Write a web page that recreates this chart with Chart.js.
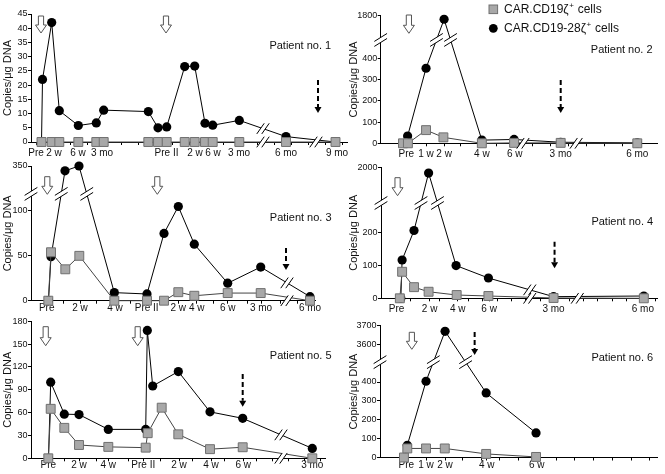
<!DOCTYPE html>
<html>
<head>
<meta charset="utf-8">
<script src="https://cdn.jsdelivr.net/npm/chart.js@4.4.1/dist/chart.umd.min.js"></script>
<style>
  body { margin: 0; background: #fff; }
  #wrap { position: relative; width: 665px; height: 474px; overflow: hidden; }
  canvas { position: absolute; }
</style>
</head>
<body>
<div id="wrap"></div>
<script>
// Timeline positions (axis units from the y axis),
// squares = CAR.CD19ζ+ cells, circles = CAR.CD19-28ζ+ cells

// Patient 1
const p1SqPos = [10.5, 20.7, 28.3, 47.3, 65.3, 72.7, 117.3, 127, 135.7, 153.7, 163.7, 174, 181.7, 208.3, 255, 304.5];
const p1Sq = [0, 0, 0, 0, 0, 0, 0, 0, 0, 0, 0, 0, 0, 0, 0, 0];
const p1CirPos = [10.5, 11.5, 20.7, 28.3, 47.3, 65.3, 72.7, 117.3, 127, 135.7, 153.7, 163.7, 174, 181.7, 208.3, 255, 304.5];
const p1Cir = [0, 22, 42, 11, 5.8, 6.7, 11.2, 10.7, 5, 5.3, 26.5, 26.7, 6.6, 5.9, 7.6, 1.9, 0];
const p1YTicks = [0, 5, 10, 15, 20, 25, 30, 35, 40, 45];
const p1XPos = [5, 23, 47, 71, 135.5, 164, 182, 208, 255, 306];
const p1XLbl = ['Pre', '2 w', '6 w', '3 mo', 'Pre II', '2 w', '6 w', '3 mo', '6 mo', '9 mo'];

// Patient 2
const p2SqPos = [22.6, 27.6, 46, 63.6, 102.6, 135.3, 182.6, 260.3];
const p2Sq = [0, 0, 62, 28, 0, 2, 2, 0];
const p2CirPos = [27.3, 46, 64.3, 102.6, 135.3, 182.6, 260.3];
const p2Cir = [34, 353, 1780, 15, 18, 5, 2];
const p2YTicks = [0, 100, 200, 300, 400, 1800];
const p2XPos = [26, 46, 64.3, 102.6, 136, 182.6, 260.3];
const p2XLbl = ['Pre', '1 w', '2 w', '4 w', '6 w', '3 mo', '6 mo'];

// Patient 3
const p3SqPos = [17.3, 20, 34.3, 48.3, 83.3, 116, 133, 147.3, 163.3, 196.7, 229.7, 279];
const p3Sq = [0, 54, 35, 50, 0, 0, 0, 9.5, 5.5, 8.5, 8.5, 0];
const p3CirPos = [17.5, 20, 34, 48, 83.3, 116, 133, 147.3, 163.3, 196.7, 229.7, 279];
const p3Cir = [0, 49, 340, 350, 9, 7.5, 75, 105, 63, 19.5, 37.5, 4.5];
const p3YTicks = [0, 50, 100, 350];
const p3XPos = [15.7, 49, 84, 115.7, 147.3, 165.7, 196.7, 230, 279];
const p3XLbl = ['Pre', '2 w', '4 w', 'Pre II', '2 w', '4 w', '6 w', '3 mo', '6 mo'];

// Patient 4
const p4SqPos = [19, 21.3, 33.3, 48, 76.3, 108.3, 174, 265];
const p4Sq = [0, 81, 34, 20, 10, 7, 1, 0];
const p4CirPos = [20, 21.3, 33.3, 48, 75.7, 108.3, 174, 265];
const p4Cir = [0, 117, 207, 1900, 100, 62, 5, 7];
const p4YTicks = [0, 100, 200, 2000];
const p4XPos = [15.7, 49, 77.3, 109, 174, 264];
const p4XLbl = ['Pre', '2 w', '4 w', '6 w', '3 mo', '6 mo'];

// Patient 5
const p5SqPos = [17.3, 19.7, 33.3, 48, 77.3, 114.7, 116.7, 130.7, 147.3, 179, 211.7, 281.3];
const p5Sq = [0, 65, 40, 17.5, 15, 14, 33, 66.5, 31.5, 12, 14.5, 0];
const p5CirPos = [17.5, 19.7, 33.3, 48, 77.3, 114.7, 116.3, 121.7, 147.3, 179, 211.7, 281.3];
const p5Cir = [0, 100, 58, 57.5, 38, 38, 168, 95, 114, 61, 52.5, 13];
const p5YTicks = [0, 30, 60, 90, 120, 150, 180];
const p5XPos = [17.3, 48, 77.3, 112.3, 148, 180, 212.3, 281.3];
const p5XLbl = ['Pre', '2 w', '4 w', 'Pre II', '2 w', '4 w', '6 w', '3 mo'];

// Patient 6
const p6SqPos = [24.3, 27.7, 46.7, 65.7, 107.7, 158.3];
const p6Sq = [0, 48, 48, 48, 19, 3];
const p6CirPos = [27.7, 46.7, 66, 107.7, 158.3];
const p6Cir = [65, 404, 3670, 342, 130];
const p6YTicks = [0, 100, 200, 300, 400, 3600, 3700];
const p6XPos = [26.7, 46.7, 66, 108.3, 159];
const p6XLbl = ['Pre', '1 w', '2 w', '4 w', '6 w'];

const FONT = '"Liberation Sans", Arial, sans-serif';
Chart.defaults.font.family = FONT;

const panels = [
  { sqPos: p1SqPos, sq: p1Sq, cirPos: p1CirPos, cir: p1Cir, yTicks: p1YTicks, xPos: p1XPos, xLbl: p1XLbl,
    name: 'Patient no. 1', box: [0, 0, 355, 160], axisW: 31, padTop: 14, padRight: 8, axisH: 18, lblPad: 2.7,
    knots: [[0, 0], [45, 1]], minorStep: 17, xBreaks: [232, 285], yGap: null,
    arrows: [[10, 2, 19], [135, 2, 19]], dashed: [[287, 66, 99]], label: [269.3, 31.7] },
  { sqPos: p2SqPos, sq: p2Sq, cirPos: p2CirPos, cir: p2Cir, yTicks: p2YTicks, xPos: p2XPos, xLbl: p2XLbl,
    name: 'Patient no. 2', box: [346, 0, 319, 160], axisW: 34.7, padTop: 15.7, padRight: 3.3, axisH: 16.7, lblPad: 1.7,
    knots: [[0, 0], [456, 0.76], [1700, 0.86], [1800, 1]], minorStep: 18.3, xBreaks: [144.3, 198.3], yGap: [456, 1700],
    arrows: [[28.6, -0.7, 17.6]], dashed: [[182.6, 64.3, 97.3]], label: [241, 34.3], legend: true },
  { sqPos: p3SqPos, sq: p3Sq, cirPos: p3CirPos, cir: p3Cir, yTicks: p3YTicks, xPos: p3XPos, xLbl: p3XLbl,
    name: 'Patient no. 3', box: [0, 155, 355, 162], axisW: 31, padTop: 11, padRight: 40, axisH: 16.3, lblPad: -1,
    knots: [[0, 0], [115, 0.766], [300, 0.82], [350, 1]], minorStep: 16.7, xBreaks: [256], yGap: [115, 300],
    arrows: [[16.3, 10.7, 28.3], [126.3, 10.7, 28.3]], dashed: [[255, 82, 104]], label: [269.7, 52.3] },
  { sqPos: p4SqPos, sq: p4Sq, cirPos: p4CirPos, cir: p4Cir, yTicks: p4YTicks, xPos: p4XPos, xLbl: p4XLbl,
    name: 'Patient no. 4', box: [346, 155, 319, 162], axisW: 35, padTop: 12.3, padRight: 5, axisH: 18.7, lblPad: 1.7,
    knots: [[0, 0], [270, 0.675], [1500, 0.78], [2000, 1]], minorStep: 14.5, xBreaks: [150, 198], yGap: [270, 1500],
    arrows: [[16.7, 10.4, 28.4]], dashed: [[175, 74.4, 101]], label: [241.3, 54.4] },
  { sqPos: p5SqPos, sq: p5Sq, cirPos: p5CirPos, cir: p5Cir, yTicks: p5YTicks, xPos: p5XPos, xLbl: p5XLbl,
    name: 'Patient no. 5', box: [0, 310, 355, 164], axisW: 31, padTop: 11.3, padRight: 30, axisH: 15.7, lblPad: -1.6,
    knots: [[0, 0], [180, 1]], minorStep: 16, xBreaks: [250], yGap: null,
    arrows: [[14.7, 5.4, 24.4], [106.7, 5.4, 24.4]], dashed: [[211.7, 52.7, 85.4]], label: [269.7, 34.4] },
  { sqPos: p6SqPos, sq: p6Sq, cirPos: p6CirPos, cir: p6Cir, yTicks: p6YTicks, xPos: p6XPos, xLbl: p6XLbl,
    name: 'Patient no. 6', box: [346, 310, 319, 164], axisW: 34, padTop: 15.7, padRight: 3.3, axisH: 16.5, lblPad: -0.8,
    knots: [[0, 0], [470, 0.673], [3540, 0.774], [3700, 1]], minorStep: 19, xBreaks: [], yGap: [470, 3540],
    arrows: [[32.3, 6.6, 23.6]], dashed: [[96, 6.3, 29.3]], label: [242.3, 32.6] }
];

// piecewise linear y scale for the broken axes
const knotsByCanvas = {};
class BrokenScale extends Chart.LinearScale {
  static id = 'broken';
  static defaults = Chart.LinearScale.defaults;
  getPixelForValue(value) {
    if (value === null || isNaN(value)) return NaN;
    const k = knotsByCanvas[this.chart.canvas.id];
    let i = 1;
    while (i < k.length - 1 && value > k[i][0]) i++;
    const [v0, d0] = k[i - 1], [v1, d1] = k[i];
    return this.getPixelForDecimal(d0 + (value - v0) / (v1 - v0) * (d1 - d0));
  }
  getValueForPixel(pixel) {
    const d = this.getDecimalForPixel(pixel);
    const k = knotsByCanvas[this.chart.canvas.id];
    let i = 1;
    while (i < k.length - 1 && d > k[i][1]) i++;
    const [v0, d0] = k[i - 1], [v1, d1] = k[i];
    return v0 + (d - d0) / (d1 - d0) * (v1 - v0);
  }
}
Chart.register(BrokenScale);

function slashes(ctx, cx, cy, kind) {
  const ang = kind === 'x' ? 55 * Math.PI / 180 : 32 * Math.PI / 180;
  const len = kind === 'x' ? 13 : 15;
  const dx = Math.cos(ang) * len / 2, dy = -Math.sin(ang) * len / 2;
  const ox = kind === 'x' ? 2.5 : 0, oy = kind === 'x' ? 0 : 2.5;
  ctx.beginPath();
  ctx.moveTo(cx - ox - dx, cy - oy - dy);
  ctx.lineTo(cx - ox + dx, cy - oy + dy);
  ctx.lineTo(cx + ox + dx, cy + oy + dy);
  ctx.lineTo(cx + ox - dx, cy + oy - dy);
  ctx.closePath();
  ctx.fillStyle = '#fff';
  ctx.fill();
  ctx.strokeStyle = '#000';
  ctx.lineWidth = 1;
  ctx.beginPath();
  ctx.moveTo(cx - ox - dx, cy - oy - dy);
  ctx.lineTo(cx - ox + dx, cy - oy + dy);
  ctx.moveTo(cx + ox - dx, cy + oy - dy);
  ctx.lineTo(cx + ox + dx, cy + oy + dy);
  ctx.stroke();
}

function openArrow(ctx, x, y0, y1) {
  const sw = 2.6, hw = 5.5, hh = 8;
  ctx.beginPath();
  ctx.moveTo(x - sw, y0);
  ctx.lineTo(x + sw, y0);
  ctx.lineTo(x + sw, y1 - hh);
  ctx.lineTo(x + hw, y1 - hh);
  ctx.lineTo(x, y1);
  ctx.lineTo(x - hw, y1 - hh);
  ctx.lineTo(x - sw, y1 - hh);
  ctx.closePath();
  ctx.fillStyle = '#fff';
  ctx.fill();
  ctx.strokeStyle = '#555';
  ctx.lineWidth = 1;
  ctx.stroke();
}

function dashedArrow(ctx, x, y0, y1) {
  ctx.strokeStyle = '#000';
  ctx.lineWidth = 2;
  ctx.setLineDash([5, 3]);
  ctx.beginPath();
  ctx.moveTo(x, y0);
  ctx.lineTo(x, y1 - 6);
  ctx.stroke();
  ctx.setLineDash([]);
  ctx.fillStyle = '#000';
  ctx.beginPath();
  ctx.moveTo(x - 3.5, y1 - 6);
  ctx.lineTo(x + 3.5, y1 - 6);
  ctx.lineTo(x, y1);
  ctx.closePath();
  ctx.fill();
}

function supText(ctx, x, y, base, sup, tail) {
  ctx.textAlign = 'left';
  ctx.textBaseline = 'middle';
  ctx.font = '12px ' + FONT;
  ctx.fillText(base, x, y);
  const w = ctx.measureText(base).width;
  ctx.font = '8px ' + FONT;
  ctx.fillText(sup, x + w + 0.5, y - 4);
  const w2 = ctx.measureText(sup).width;
  ctx.font = '12px ' + FONT;
  ctx.fillText(tail, x + w + w2 + 1, y);
}

function decor(cfg) {
  return {
    id: 'decor',
    afterDatasetsDraw(chart) {
      const { ctx, chartArea: area, scales: { x, y } } = chart;
      const axisY = y.getPixelForValue(0);
      const sets = [0, 1].map(i => chart.getDatasetMeta(i).data);
      ctx.save();
      cfg.xBreaks.forEach(b => {
        const bx = x.getPixelForValue(b);
        slashes(ctx, bx, axisY, 'x');
        sets.forEach(pts => {
          for (let j = 1; j < pts.length; j++) {
            const a = pts[j - 1], c = pts[j];
            if (a.x <= bx && c.x >= bx) {
              const py = a.y + (bx - a.x) / (c.x - a.x) * (c.y - a.y);
              if (axisY - py > 5) slashes(ctx, bx, py, 'x');
            }
          }
        });
      });
      if (cfg.yGap) {
        const gy = (y.getPixelForValue(cfg.yGap[0]) + y.getPixelForValue(cfg.yGap[1])) / 2;
        slashes(ctx, area.left, gy, 'y');
        sets.forEach(pts => {
          for (let j = 1; j < pts.length; j++) {
            const a = pts[j - 1], c = pts[j];
            if ((a.y - gy) * (c.y - gy) < 0) {
              const px = a.x + (gy - a.y) / (c.y - a.y) * (c.x - a.x);
              slashes(ctx, px, gy, 'y');
            }
          }
        });
      }
      cfg.arrows.forEach(([p, a, b]) => openArrow(ctx, x.getPixelForValue(p), area.top + a, area.top + b));
      cfg.dashed.forEach(([p, a, b]) => dashedArrow(ctx, x.getPixelForValue(p), area.top + a, area.top + b));
      ctx.font = '11px ' + FONT;
      ctx.fillStyle = '#111';
      ctx.textAlign = 'center';
      ctx.textBaseline = 'middle';
      ctx.fillText(cfg.name, area.left + cfg.label[0], area.top + cfg.label[1]);
      if (cfg.legend) {
        ctx.fillStyle = '#a8a8a8';
        ctx.strokeStyle = '#707070';
        ctx.lineWidth = 1;
        ctx.fillRect(143, 5, 8.6, 8.6);
        ctx.strokeRect(143, 5, 8.6, 8.6);
        ctx.fillStyle = '#000';
        ctx.beginPath();
        ctx.arc(147.3, 28.3, 4.4, 0, Math.PI * 2);
        ctx.fill();
        ctx.fillStyle = '#111';
        supText(ctx, 158, 9.5, 'CAR.CD19ζ', '+', ' cells');
        supText(ctx, 158, 28.5, 'CAR.CD19-28ζ', '+', ' cells');
      }
      ctx.restore();
    }
  };
}

function xTickList(cfg, max) {
  const list = cfg.xPos.map((p, i) => ({ value: p, label: cfg.xLbl[i] }));
  for (let p = cfg.xPos[0] + cfg.minorStep; p < max; p += cfg.minorStep) {
    if (!list.some(t => Math.abs(t.value - p) < 5)) list.push({ value: p, label: '' });
  }
  return list.sort((a, b) => a.value - b.value);
}

const wrap = document.getElementById('wrap');
panels.forEach((cfg, n) => {
  const [left, top, w, h] = cfg.box;
  const canvas = document.createElement('canvas');
  canvas.id = 'panel' + (n + 1);
  canvas.width = w;
  canvas.height = h;
  canvas.style.left = left + 'px';
  canvas.style.top = top + 'px';
  wrap.appendChild(canvas);
  knotsByCanvas[canvas.id] = cfg.knots;

  const xMax = w - cfg.axisW - cfg.padRight;
  const xTicks = xTickList(cfg, xMax);
  const yMax = cfg.knots[cfg.knots.length - 1][0];

  new Chart(canvas, {
    type: 'line',
    data: {
      datasets: [
        {
          data: cfg.sqPos.map((p, i) => ({ x: p, y: cfg.sq[i] })),
          borderColor: '#444',
          borderWidth: 1,
          pointStyle: 'rect',
          pointRadius: 6.3,
          pointBackgroundColor: '#a8a8a8',
          pointBorderColor: '#707070',
          pointBorderWidth: 1,
          clip: false
        },
        {
          data: cfg.cirPos.map((p, i) => ({ x: p, y: cfg.cir[i] })),
          borderColor: '#000',
          borderWidth: 1,
          pointStyle: 'circle',
          pointRadius: 4.6,
          pointBackgroundColor: '#000',
          pointBorderColor: '#000',
          pointBorderWidth: 0,
          clip: false
        }
      ]
    },
    options: {
      responsive: false,
      animation: false,
      devicePixelRatio: 1,
      layout: { padding: { left: 0, top: cfg.padTop, right: cfg.padRight, bottom: 0 } },
      plugins: { legend: { display: false }, tooltip: { enabled: false } },
      scales: {
        x: {
          type: 'linear',
          bounds: 'data',
          min: 0,
          max: xMax,
          afterBuildTicks: s => { s.ticks = xTicks.map(t => ({ value: t.value })); },
          afterFit: s => { s.height = cfg.axisH; s.paddingLeft = 0; s.paddingRight = 0; },
          ticks: {
            autoSkip: false,
            maxRotation: 0,
            padding: cfg.lblPad,
            color: '#111',
            font: { size: 10 },
            callback: (v, i) => xTicks[i].label
          },
          grid: { drawOnChartArea: false, tickLength: 3, color: '#000' },
          border: { color: '#000', width: 1 }
        },
        y: {
          type: 'broken',
          bounds: 'data',
          min: 0,
          max: yMax,
          afterBuildTicks: s => { s.ticks = cfg.yTicks.map(v => ({ value: v })); },
          afterFit: s => { s.width = cfg.axisW; s.paddingTop = 0; s.paddingBottom = 0; },
          ticks: { padding: 0.5, color: '#111', font: { size: 9 }, callback: v => String(v) },
          grid: { drawOnChartArea: false, tickLength: 3, color: '#000' },
          border: { color: '#000', width: 1 },
          title: {
            display: true,
            text: 'Copies/μg DNA',
            color: '#111',
            font: { size: 11 },
            padding: { top: 1, bottom: 0 }
          }
        }
      }
    },
    plugins: [decor(cfg)]
  });
});
</script>
</body>
</html>
